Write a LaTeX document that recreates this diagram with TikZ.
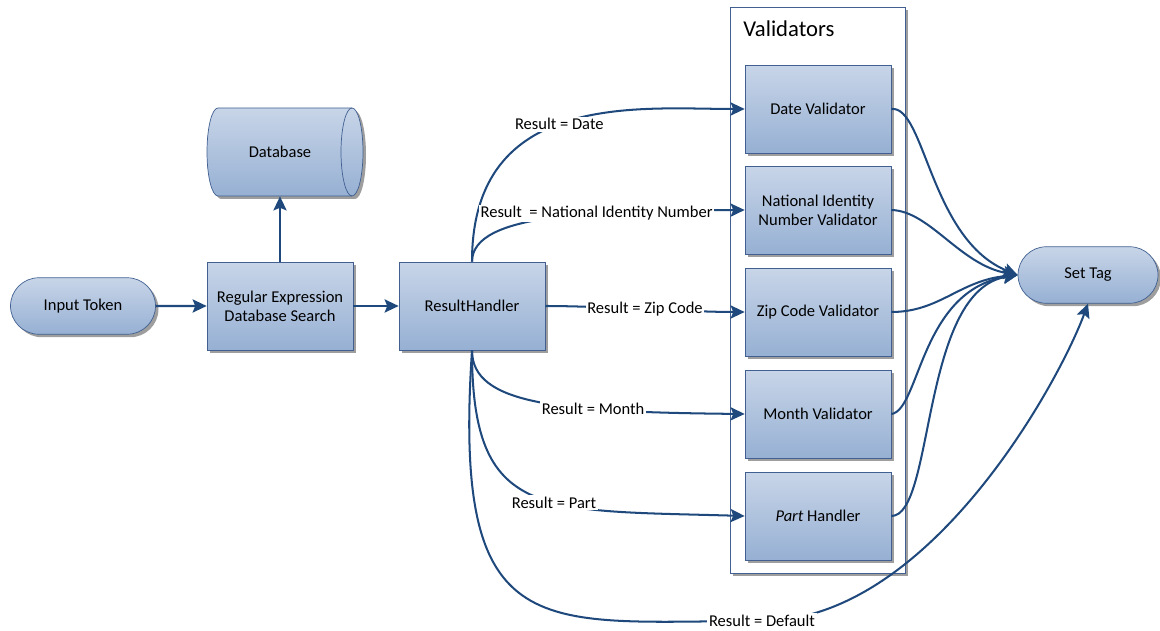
\documentclass[tikz,border=0pt]{standalone}
\usepackage{fontspec}
\setmainfont{Carlito}
\usepackage{tikz}
\usetikzlibrary{arrows.meta, positioning, shapes.misc, shadows}
\usepackage{xcolor}

\definecolor{boxtop}{RGB}{200,213,232}
\definecolor{boxbot}{RGB}{150,176,211}
\definecolor{boxline}{RGB}{65,96,145}
\definecolor{flowblue}{RGB}{31,73,125}
\newcommand{\boxfont}{\fontsize{9.4pt}{10.9pt}\selectfont}

\tikzset{
  boxshadow/.style={drop shadow={shadow xshift=0.06cm, shadow yshift=-0.06cm, fill=black!38, opacity=1}},
  boxfill/.style={draw=boxline, top color=boxtop, bottom color=boxbot},
  procbox/.style={boxfill, minimum width=2.92cm, minimum height=1.76cm, inner sep=0pt, align=center, font=\boxfont, boxshadow},
  termbox/.style={procbox, rounded rectangle, minimum width=2.9cm, minimum height=1.13cm},
  flow/.style={draw=flowblue, line width=1.15pt, -{Stealth[length=8pt, width=7.5pt, inset=1.5pt]}},
  lbl/.style={fill=white, inner sep=1pt, font=\boxfont},
}

\begin{document}
\begin{tikzpicture}[x=0.02cm, y=-0.02cm]
  \useasboundingbox (0,0) rectangle (1160,631);
  % container for the validators
  \node[draw=boxline, fill=white, boxshadow, minimum width=3.5cm, minimum height=11.32cm, inner sep=0pt] (vbox) at (817.5,290) {};
  \node[anchor=west, inner sep=0pt, font=\fontsize{12.9pt}{15pt}\selectfont] (vtitle) at (743,29) {Validators};

  \node[termbox] (input) at (83,306) {Input Token};
  \node[procbox] (regex) at (280,306) {Regular Expression\\Database Search};
  \node[procbox] (rh) at (472,306) {ResultHandler};

  % database drum
  \draw[boxfill, boxshadow] (218,108) -- (352,108)
    arc[start angle=90, end angle=-90, x radius=0.22cm, y radius=0.88cm] -- (218,196)
    arc[start angle=270, end angle=90, x radius=0.22cm, y radius=0.88cm] -- cycle;
  \draw[boxline] (352,108) arc[start angle=90, end angle=270, x radius=0.22cm, y radius=0.88cm];
  \node[minimum width=2.8cm, minimum height=1.76cm, inner sep=0pt, font=\boxfont] (db) at (280,152) {Database};

  \node[procbox] (date) at (818,109) {Date Validator};
  \node[procbox] (nin) at (818,210) {National Identity\\Number Validator};
  \node[procbox] (zip) at (818,312) {Zip Code Validator};
  \node[procbox] (month) at (818,414) {Month Validator};
  \node[procbox] (part) at (818,516) {\textit{Part} Handler};
  \node[termbox, minimum width=2.8cm] (tag) at (1088,275) {Set Tag};

  \draw[flow] (input) -- (regex);
  \draw[flow] (regex.north) -- (db.south);
  \draw[flow] (regex) -- (rh);

  % result branches
  \draw[flow] (rh.north) .. controls (472,90) and (640,109) .. node[lbl, pos=0.47] {Result = Date} (date.west);
  \draw[flow] (rh.north) .. controls (472,212) and (600,211) .. node[lbl, pos=0.63] {Result\ \ = National Identity Number} (nin.west);
  \draw[flow] (rh.east) .. controls (600,306) and (690,312) .. node[lbl, pos=0.5] {Result = Zip Code} (zip.west);
  \draw[flow] (rh.south) .. controls (472,405) and (560,412) .. node[lbl, pos=0.67] {Result = Month} (month.west);
  \draw[flow] (rh.south) .. controls (472,520) and (540,510) .. node[lbl, pos=0.58] {Result = Part} (part.west);
  \draw[flow] (rh.south) .. controls (452,650) and (540,621) .. (762,621) node[lbl] (dflt) {Result = Default}
    .. controls (930,621) and (1060,380) .. (tag.south);

  % validators to tag
  \draw[flow] (date.east) .. controls (925,105) and (930,240) .. (tag.west);
  \draw[flow] (nin.east) .. controls (930,211) and (960,265) .. (tag.west);
  \draw[flow] (zip.east) .. controls (940,312) and (960,280) .. (tag.west);
  \draw[flow] (month.east) .. controls (920,410) and (920,290) .. (tag.west);
  \draw[flow] (part.east) .. controls (935,516) and (920,290) .. (tag.west);
\end{tikzpicture}
\end{document}
